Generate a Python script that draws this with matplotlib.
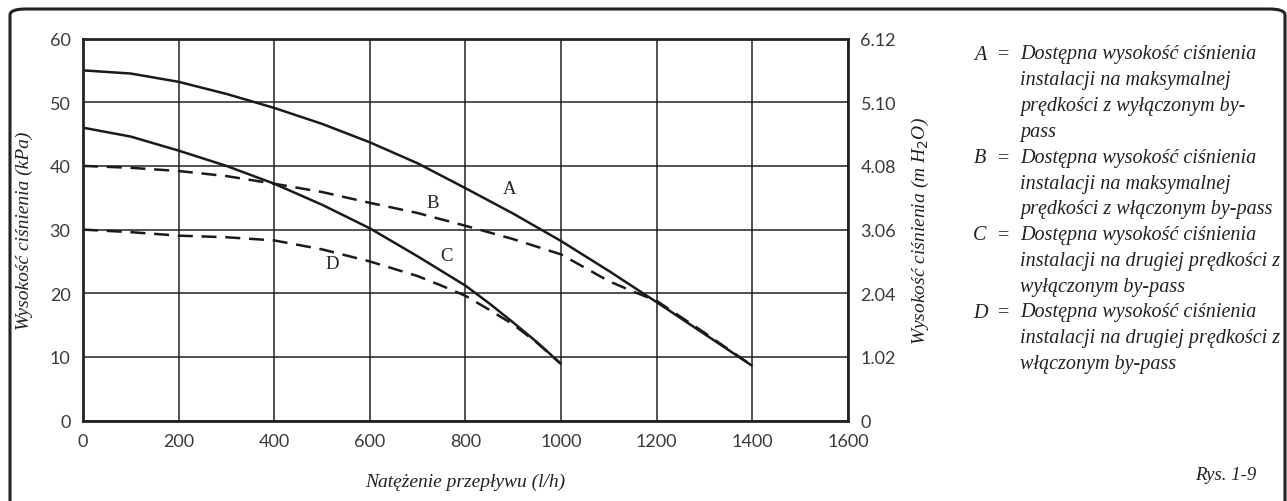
import matplotlib
matplotlib.use("Agg")
import matplotlib.pyplot as plt
from matplotlib.patches import FancyBboxPatch
from matplotlib import font_manager

# ---- data ----
a_x = [0, 100, 200, 300, 400, 500, 600, 700, 800, 900, 1000, 1100, 1200, 1300, 1400]
a_y = [55, 54.5, 53.2, 51.3, 49.1, 46.6, 43.7, 40.4, 36.5, 32.5, 28.2, 23.5, 18.6, 13.6, 8.6]
b_x = [0, 100, 200, 300, 400, 500, 600, 700, 800, 900, 1000, 1100, 1150, 1200, 1300, 1400]
b_y = [40, 39.7, 39.2, 38.4, 37.2, 35.9, 34.2, 32.6, 30.6, 28.5, 26.1, 21.9, 20.3, 18.8, 13.8, 8.6]
c_x = [0, 100, 200, 300, 400, 500, 600, 700, 800, 850, 900, 950, 1000]
c_y = [46, 44.6, 42.4, 40.0, 37.2, 33.9, 30.2, 25.8, 21.2, 18.4, 15.4, 12.3, 8.9]
d_x = [0, 100, 200, 300, 400, 500, 600, 700, 750, 800, 850, 900, 950, 1000]
d_y = [30, 29.6, 29.05, 28.8, 28.3, 26.9, 25.0, 22.7, 21.2, 19.6, 17.4, 15.1, 12.2, 8.9]

x_ticks = [0, 200, 400, 600, 800, 1000, 1200, 1400, 1600]
y_ticks = [0, 10, 20, 30, 40, 50, 60]
right_labels = ["0", "1.02", "2.04", "3.06", "4.08", "5.10", "6.12"]

curve_labels = ["A", "B", "C", "D"]
label_pos_x = [893, 731, 761, 521]
label_pos_y = [36.4, 34.3, 26.0, 24.6]

legend_letters = ["A", "B", "C", "D"]
legend_texts = [
    ["Dostępna wysokość ciśnienia", "instalacji na maksymalnej", "prędkości z wyłączonym by-", "pass"],
    ["Dostępna wysokość ciśnienia", "instalacji na maksymalnej", "prędkości z włączonym by-pass"],
    ["Dostępna wysokość ciśnienia", "instalacji na drugiej prędkości z", "wyłączonym by-pass"],
    ["Dostępna wysokość ciśnienia", "instalacji na drugiej prędkości z", "włączonym by-pass"],
]

# ---- fonts ----
avail = {f.name for f in font_manager.fontManager.ttflist}
sans = "Lato" if "Lato" in avail else "DejaVu Sans"
serif = "Liberation Serif" if "Liberation Serif" in avail else "DejaVu Serif"

W, H = 1287, 502
fig = plt.figure(figsize=(W / 100, H / 100), dpi=100)

# rounded border
box = FancyBboxPatch((10 / W, -20 / H), (1285 - 10) / W, (H - 10) / H + 20 / H,
                     boxstyle="round,pad=0,rounding_size=0.012",
                     transform=fig.transFigure, fill=False, edgecolor="#222222",
                     linewidth=2.2, clip_on=False)
fig.patches.append(box)

ax = fig.add_axes([83 / W, 1 - 421.7 / H, (848 - 83) / W, (421.7 - 39.5) / H])
ax.set_xlim(0, 1600)
ax.set_ylim(0, 60)
ax.set_xticks(x_ticks)
ax.set_yticks(y_ticks)
ax.grid(True, color="#222222", linewidth=1.1)
ax.tick_params(length=0, labelsize=13, colors="#3a3a3a", pad=9)
for lab in ax.get_xticklabels() + ax.get_yticklabels():
    lab.set_fontfamily(sans)
    lab.set_fontweight("normal")
for sp in ax.spines.values():
    sp.set_linewidth(2.0)
    sp.set_color("#222222")

lc = "#1a1a1a"
ax.plot(a_x, a_y, color=lc, lw=1.8, solid_capstyle="butt")
ax.plot(c_x, c_y, color=lc, lw=1.8, solid_capstyle="butt")
ax.plot(b_x, b_y, color=lc, lw=1.8, dashes=(6, 3.5))
ax.plot(d_x, d_y, color=lc, lw=1.8, dashes=(6, 3.5))

for t, lx, ly in zip(curve_labels, label_pos_x, label_pos_y):
    ax.text(lx, ly, t, fontsize=13.5, family=serif, color="#222222", ha="center", va="center")

ax.set_xlabel("Natężenie przepływu (l/h)", fontsize=14, family=serif, style="italic",
              color="#222222", labelpad=17)
ax.set_ylabel("Wysokość ciśnienia (kPa)", fontsize=14, family=serif, style="italic",
              color="#222222", labelpad=12)

ax2 = ax.twinx()
ax2.set_ylim(0, 60)
ax2.set_yticks(y_ticks)
ax2.set_yticklabels(right_labels)
ax2.tick_params(length=0, labelsize=13, colors="#3a3a3a", pad=9)
for lab in ax2.get_yticklabels():
    lab.set_fontfamily(sans)
    lab.set_fontweight("normal")
for sp in ax2.spines.values():
    sp.set_visible(False)
ax2.set_ylabel("Wysokość ciśnienia (m H$_2$O)", fontsize=14, family=serif, style="italic",
               color="#222222", labelpad=10)

# legend text block
y0 = 55
dy = 25.8
line = 0
for letter, lines in zip(legend_letters, legend_texts):
    yy = 1 - (y0 + line * dy) / H
    fig.text(980 / W, yy, letter, fontsize=14.5, family=serif, style="italic",
             color="#222222", ha="center", va="center")
    fig.text(1004 / W, yy, "=", fontsize=14.5, family=serif, color="#222222",
             ha="center", va="center")
    for ln in lines:
        yy = 1 - (y0 + line * dy) / H
        fig.text(1020 / W, yy, ln, fontsize=14.5, family=serif, style="italic",
                 color="#222222", ha="left", va="center")
        line += 1

fig.text(1256 / W, 1 - 475 / H, "Rys. 1-9", fontsize=13.5, family=serif, style="italic",
         color="#222222", ha="right", va="center")

fig.savefig("out.png", dpi=100)
